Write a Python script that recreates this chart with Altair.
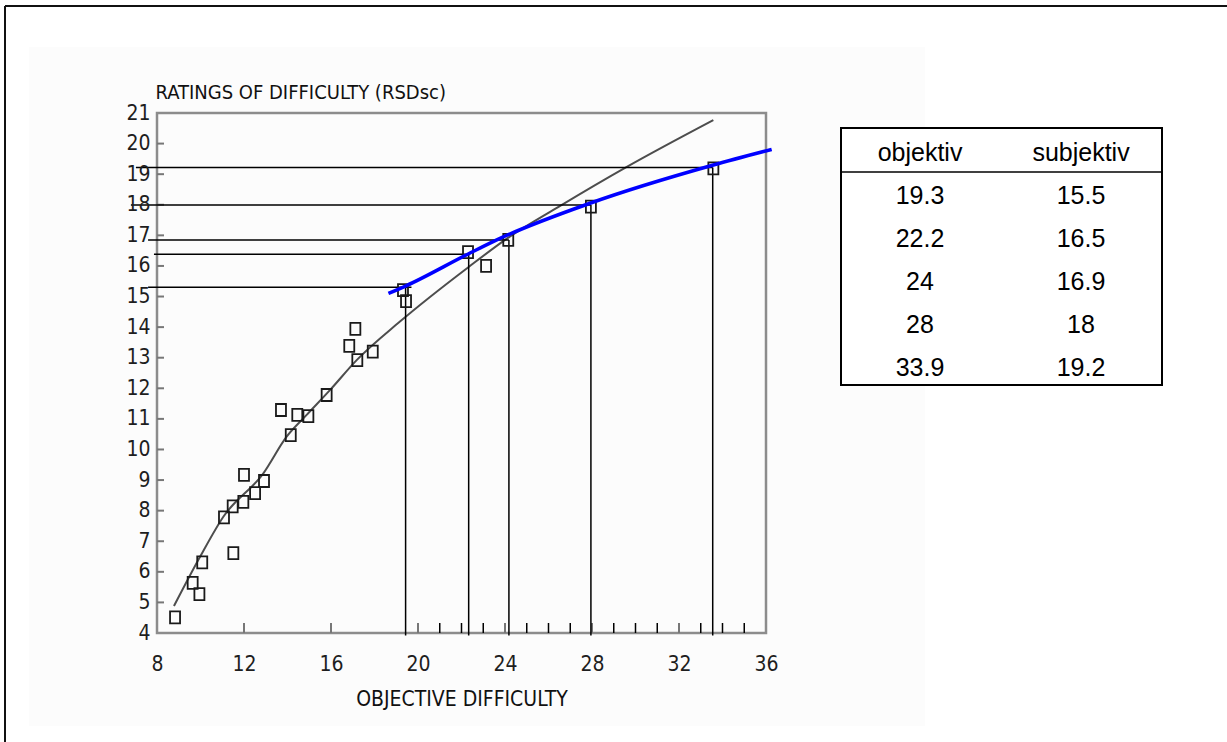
import altair as alt
import pandas as pd

# ---------------- data ----------------
x_tick_labels = [8, 12, 16, 20, 24, 28, 32, 36]
y_tick_labels = list(range(4, 22))
x_gray_ticks = [12, 16, 20, 24, 28, 32]
x_black_ticks = [21, 22, 23, 25, 26, 27, 29, 30, 31, 33, 34, 35]
y_gray_ticks = list(range(5, 21))

sq_x = [8.83, 9.64, 9.95, 10.08, 11.51, 11.08, 11.48, 11.97, 12.00, 12.51, 12.92,
        13.70, 14.15, 14.45, 14.96, 15.80, 16.84, 17.12, 17.21, 17.92,
        19.31, 19.45, 22.30, 23.13, 24.15, 27.95, 33.58]
sq_y = [4.51, 5.64, 5.27, 6.31, 6.61, 7.78, 8.14, 8.29, 9.17, 8.57, 8.97,
        11.29, 10.47, 11.13, 11.09, 11.78, 13.39, 13.94, 12.92, 13.20,
        15.21, 14.85, 16.45, 16.00, 16.85, 17.94, 19.19]

curve_x = [8.78, 9.98, 11.05, 12.89, 13.96, 14.88, 15.95, 17.18, 19.17, 22.3, 24.2, 26.5, 29.6, 33.58]
curve_y = [4.88, 6.49, 7.80, 9.22, 10.42, 11.13, 11.94, 12.92, 14.18, 15.95, 16.95, 17.95, 19.24, 20.77]

fit_x = [18.64, 19.45, 22.33, 23.77, 27.91, 33.58, 36.26]
fit_y = [15.10, 15.35, 16.40, 16.90, 18.05, 19.30, 19.81]

drop_x = [19.43, 22.33, 24.18, 27.95, 33.55]
drop_y = [15.30, 16.38, 16.85, 17.99, 19.22]
drop_left = [7.59, 7.86, 7.59, 6.80, 7.03]
drop_right = [19.70, 22.33, 24.18, 27.95, 33.55]

table_header = ["objektiv", "subjektiv"]
table_obj = ["19.3", "22.2", "24", "28", "33.9"]
table_subj = ["15.5", "16.5", "16.9", "18", "19.2"]

# ---------------- layout ----------------
W, H = 609, 520
NARROW = "Liberation Sans Narrow, Arial Narrow, DejaVu Sans Condensed, sans-serif"
ARIAL = "Liberation Sans, Arial, sans-serif"

xs = alt.Scale(domain=[8, 36], nice=False, zero=False)
ys = alt.Scale(domain=[4, 21], nice=False, zero=False)

xa = alt.Axis(
    values=x_tick_labels, ticks=False, tickSize=0, domain=False, grid=False, zindex=1,
    labelFont=NARROW, labelFontSize=21, labelColor="#1e1e1e", labelFlush=False,
    labelOverlap=False, labelBaseline="middle", labelPadding=31,
    title="OBJECTIVE DIFFICULTY", titleFont=NARROW, titleFontSize=21,
    titleFontWeight="normal", titleColor="#111", titleY=66, titleBaseline="middle")
ya = alt.Axis(
    values=y_tick_labels, ticks=False, tickSize=0, domain=False, grid=False, zindex=1,
    labelFont=NARROW, labelFontSize=21, labelColor="#1e1e1e", labelFlush=False,
    labelOverlap=False, labelBaseline="middle", labelPadding=7,
    title="RATINGS OF DIFFICULTY (RSDsc)", titleFont=NARROW, titleFontSize=20,
    titleFontWeight="normal", titleColor="#111", titleAngle=0,
    titleX=-2, titleY=-21, titleAlign="left", titleBaseline="middle")


def X(field):
    return alt.X(field, scale=xs, axis=xa)


def Y(field):
    return alt.Y(field, scale=ys, axis=ya)


one = pd.DataFrame({"k": [0]})

# background faint rectangle (pasted picture area)
bg = alt.Chart(one).mark_rect(color="#fcfcfc").encode(
    x=alt.value(-128), x2=alt.value(768), y=alt.value(-66), y2=alt.value(613))

# outer page frame
frame_left = alt.Chart(one).mark_rule(color="#111", strokeWidth=2).encode(
    x=alt.value(-152), y=alt.value(-107), y2=alt.value(640))
frame_top = alt.Chart(one).mark_rule(color="#111", strokeWidth=2).encode(
    x=alt.value(-152), x2=alt.value(1080), y=alt.value(-107))

# plot frame (gray box)
pframe = alt.Chart(one).mark_rect(filled=False, stroke="#8c8c8c", strokeWidth=2.5).encode(
    x=alt.value(0), x2=alt.value(W), y=alt.value(0), y2=alt.value(H))

base = alt.Chart(pd.DataFrame({"x": [8], "y": [4]})).mark_point(opacity=0).encode(
    x=X("x:Q"), y=Y("y:Q"))

gx = alt.Chart(pd.DataFrame({"x": x_gray_ticks})).mark_rule(color="#777", strokeWidth=2).encode(
    x=X("x:Q"), y=alt.value(H), y2=alt.value(H - 10))
bx = alt.Chart(pd.DataFrame({"x": x_black_ticks})).mark_rule(color="black", strokeWidth=1.5).encode(
    x=X("x:Q"), y=alt.value(H), y2=alt.value(H - 10))
gy = alt.Chart(pd.DataFrame({"y": y_gray_ticks})).mark_rule(color="#777", strokeWidth=2).encode(
    y=Y("y:Q"), x=alt.value(0), x2=alt.value(7))

curve = alt.Chart(pd.DataFrame({"x": curve_x, "y": curve_y})).mark_line(
    color="#4d4d4d", strokeWidth=2, interpolate="monotone").encode(
    x=X("x:Q"), y=Y("y:Q"))

drops = pd.DataFrame({"x": drop_x, "y": drop_y, "l": drop_left, "r": drop_right})
vlines = alt.Chart(drops).mark_rule(color="black", strokeWidth=1.5).encode(
    x=X("x:Q"), y=Y("y:Q"), y2=alt.value(H + 2.5))
hlines = alt.Chart(drops).mark_rule(color="black", strokeWidth=1.5).encode(
    x=X("l:Q"), x2="r:Q", y=Y("y:Q"))

rect_shape = "M-0.833,-1L0.833,-1L0.833,1L-0.833,1Z"
squares = alt.Chart(pd.DataFrame({"x": sq_x, "y": sq_y})).mark_point(
    shape=rect_shape, size=144, filled=False, color="#1a1a1a", strokeWidth=1.8, opacity=1).encode(
    x=X("x:Q"), y=Y("y:Q"))

fit = alt.Chart(pd.DataFrame({"x": fit_x, "y": fit_y})).mark_line(
    color="#0000ff", strokeWidth=3.5, interpolate="monotone").encode(
    x=X("x:Q"), y=Y("y:Q"))

# table box
tbox = alt.Chart(one).mark_rect(fill="white", stroke="black", strokeWidth=2).encode(
    x=alt.value(684), x2=alt.value(1005), y=alt.value(15), y2=alt.value(272))
tsep = alt.Chart(one).mark_rule(color="black", strokeWidth=1.5).encode(
    x=alt.value(684), x2=alt.value(1005), y=alt.value(59))

main = alt.layer(bg, frame_left, frame_top, tbox, tsep, pframe, base, gx, bx, gy,
                 curve, vlines, hlines, squares, fit)

rows = []
rows.append({"c": 0, "r": 0, "t": table_header[0]})
rows.append({"c": 1, "r": 0, "t": table_header[1]})
for i, (a, b) in enumerate(zip(table_obj, table_subj)):
    rows.append({"c": 0, "r": i + 1, "t": a})
    rows.append({"c": 1, "r": i + 1, "t": b})
table = alt.Chart(pd.DataFrame(rows)).mark_text(
    font=ARIAL, fontSize=25, color="black", baseline="middle", align="center").encode(
    x=alt.X("c:Q", scale=alt.Scale(domain=[0, 1], range=[763, 924]), axis=None),
    y=alt.Y("r:Q", scale=alt.Scale(domain=[0, 5], range=[40, 255]), axis=None),
    text="t:N")

chart = alt.layer(main, table).resolve_scale(x="independent", y="independent").properties(
    width=W, height=H,
    autosize=alt.AutoSizeParams(type="none"),
    padding={"left": 157, "top": 113, "right": 461, "bottom": 109},
    background="white",
).configure_view(strokeWidth=0).configure_axis(labelOverlap=False)

chart.save("out.html", embed_options={"renderer": "svg", "actions": False})
